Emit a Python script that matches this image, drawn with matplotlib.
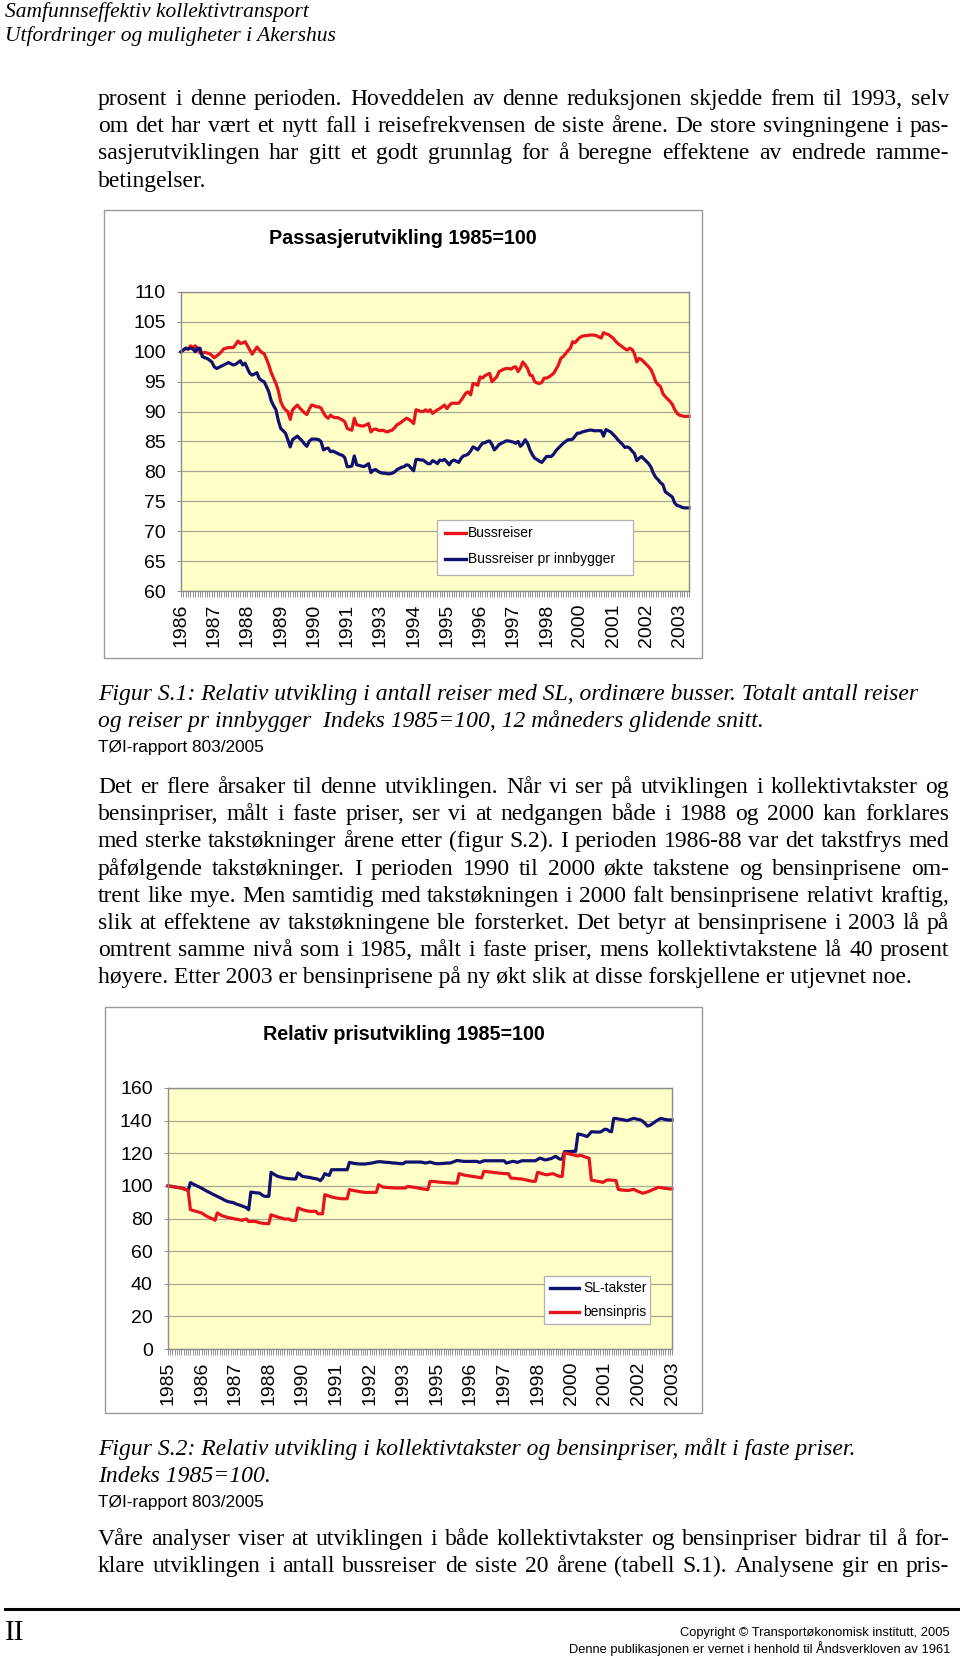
import matplotlib
matplotlib.use("Agg")
import matplotlib.pyplot as plt
import numpy as np
from matplotlib.patches import Rectangle
from matplotlib.lines import Line2D

# ---------------- chart 1: Passasjerutvikling 1985=100 (monthly) ----------------
bus_trips = [
    100.0, 100.3, 100.6, 100.4, 101.0, 100.7, 101.0, 100.5, 99.8, 99.8,
    99.9, 99.8, 99.7, 99.4, 99.0, 99.3, 99.6, 100.0, 100.5, 100.6,
    100.7, 100.7, 100.7, 101.2, 101.8, 101.4, 101.5, 101.7, 101.0, 100.3,
    99.6, 100.2, 100.8, 100.3, 99.9, 99.7, 98.8, 97.8, 96.5, 95.6,
    94.7, 93.5, 91.7, 90.8, 90.3, 90.0, 88.7, 90.3, 90.7, 91.1,
    90.6, 90.2, 89.8, 89.5, 90.4, 91.1, 91.0, 90.8, 90.8, 90.6,
    89.8, 89.2, 88.9, 89.4, 89.1, 89.0, 89.0, 88.8, 88.6, 88.3,
    87.2, 87.0, 86.9, 88.9, 87.8, 87.7, 87.6, 87.6, 87.8, 88.0,
    86.6, 87.0, 87.1, 86.9, 86.8, 86.9, 86.7, 86.6, 86.8, 86.9,
    87.3, 87.8, 88.0, 88.3, 88.6, 88.9, 88.7, 88.4, 88.0, 90.3,
    90.2, 90.0, 90.0, 90.3, 90.0, 90.3, 89.7, 90.0, 90.3, 90.5,
    90.8, 91.1, 90.5, 91.0, 91.4, 91.4, 91.4, 91.4, 91.9, 92.5,
    93.1, 93.3, 92.8, 94.7, 94.6, 94.4, 95.8, 95.6, 96.0, 96.2,
    96.4, 95.0, 95.4, 95.8, 96.7, 96.9, 97.1, 97.2, 97.2, 97.1,
    97.4, 97.5, 96.7, 97.3, 98.3, 97.8, 97.2, 96.1, 96.0, 95.0,
    94.8, 94.7, 94.9, 95.6, 95.6, 95.8, 96.1, 96.4, 97.1, 97.8,
    98.9, 99.2, 99.7, 100.2, 100.6, 101.7, 101.5, 102.0, 102.4, 102.6,
    102.7, 102.7, 102.8, 102.8, 102.8, 102.7, 102.5, 102.3, 103.2, 103.0,
    102.9, 102.6, 102.3, 101.8, 101.4, 101.1, 100.8, 100.5, 100.3, 100.6,
    100.4, 99.7, 98.3, 98.9, 98.7, 98.3, 97.9, 97.5, 97.0, 96.1,
    95.0, 94.5, 94.2, 93.0, 92.5, 92.1, 91.7, 91.2, 90.3, 89.7,
    89.4, 89.3, 89.2, 89.2, 89.2,
]
bus_trips_per_capita = [
    100.0, 100.3, 100.6, 100.5, 100.6, 100.5, 100.0, 100.6, 100.6, 99.2,
    99.0, 98.9, 98.6, 98.3, 97.5, 97.2, 97.4, 97.6, 97.8, 98.0,
    98.2, 98.0, 97.8, 97.9, 98.2, 98.5, 97.8, 98.1, 97.2, 96.4,
    96.1, 96.3, 96.5, 95.5, 95.2, 95.0, 94.2, 93.3, 91.8, 91.0,
    90.3, 88.5, 87.2, 86.8, 86.4, 85.3, 84.1, 85.3, 85.6, 85.9,
    85.5, 85.1, 84.6, 84.2, 85.0, 85.4, 85.4, 85.4, 85.3, 85.0,
    83.6, 83.8, 83.9, 83.3, 83.4, 83.2, 83.0, 82.8, 82.7, 82.3,
    80.8, 80.8, 80.9, 82.6, 81.1, 81.0, 80.9, 80.8, 81.0, 81.3,
    79.8, 80.2, 80.3, 80.0, 79.8, 79.7, 79.7, 79.6, 79.6, 79.7,
    79.9, 80.3, 80.5, 80.7, 80.8, 81.1, 81.0, 80.5, 80.1, 82.0,
    82.0, 81.9, 81.9, 81.6, 81.3, 81.3, 81.8, 81.6, 81.3, 81.9,
    81.8, 82.0, 81.6, 81.1, 81.7, 81.9, 81.7, 81.5, 82.2, 82.6,
    82.7, 82.9, 83.4, 84.1, 83.9, 83.6, 84.2, 84.7, 84.8, 85.0,
    85.1, 84.5, 83.6, 84.0, 84.5, 84.7, 84.9, 85.1, 85.1, 85.0,
    84.9, 84.7, 85.0, 84.2, 84.6, 85.3, 84.7, 83.6, 82.8, 82.2,
    82.0, 81.7, 81.5, 82.0, 82.5, 82.5, 82.5, 82.9, 83.5, 83.9,
    84.3, 84.7, 85.0, 85.3, 85.3, 85.4, 85.9, 86.4, 86.4, 86.6,
    86.7, 86.8, 86.9, 86.9, 86.8, 86.8, 86.8, 86.8, 85.9, 87.0,
    86.8, 86.6, 86.2, 85.8, 85.3, 84.9, 84.5, 84.0, 84.1, 83.9,
    83.4, 83.0, 81.8, 82.2, 82.5, 82.1, 81.7, 81.3, 80.7, 79.7,
    79.0, 78.6, 78.1, 77.8, 76.6, 76.3, 76.0, 75.7, 74.7, 74.3,
    74.2, 74.0, 73.9, 73.9, 73.9,
]
pass_labels = ["1986", "1987", "1988", "1989", "1990", "1991", "1993", "1994",
               "1995", "1996", "1997", "1998", "2000", "2001", "2002", "2003"]
pass_label_step = 14
pass_yticks = [60, 65, 70, 75, 80, 85, 90, 95, 100, 105, 110]

# ---------------- chart 2: Relativ prisutvikling 1985=100 (monthly) ----------------
sl_fares = [
    100.0, 99.8, 99.6, 99.3, 99.1, 98.9, 98.7, 98.2, 97.7, 97.2,
    102.0, 101.3, 100.6, 99.9, 99.3, 98.6, 97.8, 97.0, 96.3, 95.6,
    94.9, 94.2, 93.5, 92.9, 92.2, 91.4, 90.8, 90.3, 90.0, 89.8,
    89.2, 88.6, 88.2, 87.7, 87.2, 86.6, 85.4, 96.2, 96.0, 95.8,
    95.7, 95.5, 94.4, 93.6, 93.6, 93.6, 108.3, 107.4, 106.6, 105.8,
    105.5, 105.1, 104.8, 104.6, 104.4, 104.3, 104.2, 104.2, 107.9, 107.0,
    105.8, 105.6, 105.4, 105.2, 104.9, 104.6, 104.4, 104.0, 103.2, 104.8,
    107.5, 106.8, 106.4, 109.9, 109.9, 109.9, 109.9, 109.9, 109.9, 109.9,
    109.9, 114.4, 114.1, 113.8, 113.6, 113.5, 113.4, 113.4, 113.4, 113.6,
    113.8, 114.0, 114.3, 114.6, 114.8, 114.8, 114.6, 114.5, 114.4, 114.3,
    114.1, 114.0, 113.9, 113.7, 113.6, 113.6, 114.6, 114.6, 114.6, 114.6,
    114.6, 114.6, 114.6, 114.6, 114.3, 114.0, 114.3, 114.6, 114.2, 113.8,
    113.6, 113.6, 113.7, 113.8, 113.9, 114.0, 114.0, 114.5, 115.0, 115.6,
    115.4, 115.2, 115.0, 115.0, 115.0, 115.0, 115.0, 115.0, 115.0, 114.4,
    114.8, 115.4, 115.4, 115.4, 115.4, 115.4, 115.4, 115.4, 115.4, 115.4,
    115.4, 114.0, 114.3, 114.7, 115.0, 114.8, 114.4, 114.9, 115.4, 115.4,
    115.4, 115.4, 115.4, 115.4, 115.4, 116.2, 117.0, 116.6, 116.0, 116.0,
    116.4, 116.7, 117.4, 118.1, 117.2, 116.4, 116.4, 121.0, 121.0, 121.0,
    121.1, 121.2, 121.2, 131.8, 131.6, 131.2, 130.8, 130.2, 131.5, 133.2,
    133.1, 133.0, 133.0, 133.0, 133.8, 134.7, 134.6, 133.5, 133.2, 141.4,
    141.3, 141.0, 140.8, 140.6, 140.3, 140.0, 140.5, 141.0, 141.4, 141.0,
    140.7, 140.4, 139.5, 138.3, 136.7, 137.0, 137.9, 138.8, 139.8, 140.6,
    141.4, 141.0, 140.7, 140.5, 140.4, 140.4,
]
petrol_price = [
    100.0, 99.8, 99.6, 99.3, 99.1, 98.9, 98.7, 98.2, 97.7, 97.2,
    85.4, 85.0, 84.6, 84.2, 83.8, 83.4, 82.5, 81.6, 80.9, 80.3,
    79.7, 78.9, 83.4, 82.6, 81.8, 81.3, 80.9, 80.5, 80.3, 80.0,
    79.7, 79.5, 79.2, 78.9, 79.3, 79.7, 78.2, 78.2, 78.2, 78.2,
    77.8, 77.4, 77.1, 77.0, 76.8, 76.8, 82.3, 81.8, 81.3, 80.9,
    80.5, 80.1, 79.7, 79.7, 79.7, 78.9, 78.9, 78.9, 86.4, 86.0,
    85.4, 85.0, 84.7, 84.4, 84.4, 84.4, 84.4, 82.9, 82.9, 82.9,
    94.6, 94.2, 93.7, 93.2, 92.9, 92.6, 92.4, 92.2, 92.1, 92.1,
    92.1, 97.7, 97.4, 97.1, 96.9, 96.6, 96.4, 96.2, 96.0, 96.0,
    96.0, 96.0, 96.0, 96.0, 100.7, 100.0, 99.3, 99.1, 99.0, 98.9,
    98.8, 98.7, 98.7, 98.7, 98.7, 98.7, 98.7, 99.7, 99.5, 99.3,
    99.1, 98.9, 98.6, 98.3, 98.1, 97.9, 97.7, 102.8, 102.7, 102.6,
    102.5, 102.3, 102.2, 102.1, 102.0, 101.9, 101.8, 101.7, 101.7, 101.7,
    107.5, 107.1, 106.7, 106.4, 106.2, 106.0, 105.8, 105.6, 105.4, 105.1,
    104.9, 108.9, 108.8, 108.6, 108.5, 108.3, 108.1, 108.0, 107.8, 107.7,
    107.5, 107.5, 107.5, 104.8, 104.7, 104.6, 104.4, 104.3, 104.2, 103.9,
    103.6, 103.3, 103.0, 102.8, 102.8, 108.3, 107.9, 107.5, 107.1, 106.8,
    107.0, 107.3, 107.5, 106.8, 106.2, 105.8, 105.8, 120.2, 120.0, 119.6,
    119.3, 119.0, 118.6, 118.3, 118.8, 118.4, 117.8, 117.4, 116.9, 103.6,
    103.3, 103.0, 102.8, 102.5, 102.1, 102.8, 103.6, 103.6, 103.5, 103.4,
    103.3, 97.9, 97.6, 97.4, 97.3, 97.2, 97.3, 97.6, 97.9, 97.1,
    96.5, 96.0, 95.5, 95.9, 96.3, 96.8, 97.5, 98.0, 98.6, 99.1,
    98.9, 98.7, 98.5, 98.3, 98.1, 98.1,
]
price_labels = ["1985", "1986", "1987", "1988", "1990", "1991", "1992", "1993",
                "1995", "1996", "1997", "1998", "2000", "2001", "2002", "2003"]
price_label_step = 15
price_yticks = [0, 20, 40, 60, 80, 100, 120, 140, 160]

# ---------------- page text ----------------
header = ["Samfunnseffektiv kollektivtransport",
          "Utfordringer og muligheter i Akershus"]
para1 = ["prosent i denne perioden. Hoveddelen av denne reduksjonen skjedde frem til 1993, selv",
         "om det har vært et nytt fall i reisefrekvensen de siste årene. De store svingningene i pas-",
         "sasjerutviklingen har gitt et godt grunnlag for å beregne effektene av endrede ramme-",
         "betingelser."]
caption1 = ["Figur S.1: Relativ utvikling i antall reiser med SL, ordinære busser. Totalt antall reiser",
            "og reiser pr innbygger  Indeks 1985=100, 12 måneders glidende snitt."]
para2 = ["Det er flere årsaker til denne utviklingen. Når vi ser på utviklingen i kollektivtakster og",
         "bensinpriser, målt i faste priser, ser vi at nedgangen både i 1988 og 2000 kan forklares",
         "med sterke takstøkninger årene etter (figur S.2). I perioden 1986-88 var det takstfrys med",
         "påfølgende takstøkninger. I perioden 1990 til 2000 økte takstene og bensinprisene om-",
         "trent like mye. Men samtidig med takstøkningen i 2000 falt bensinprisene relativt kraftig,",
         "slik at effektene av takstøkningene ble forsterket. Det betyr at bensinprisene i 2003 lå på",
         "omtrent samme nivå som i 1985, målt i faste priser, mens kollektivtakstene lå 40 prosent",
         "høyere. Etter 2003 er bensinprisene på ny økt slik at disse forskjellene er utjevnet noe."]
caption2 = ["Figur S.2: Relativ utvikling i kollektivtakster og bensinpriser, målt i faste priser.",
            "Indeks 1985=100."]
para3 = ["Våre analyser viser at utviklingen i både kollektivtakster og bensinpriser bidrar til å for-",
         "klare utviklingen i antall bussreiser de siste 20 årene (tabell S.1). Analysene gir en pris-"]
report = "TØI-rapport 803/2005"
footer = ["Copyright © Transportøkonomisk institutt, 2005",
          "Denne publikasjonen er vernet i henhold til Åndsverkloven av 1961"]

W, H = 960, 1659
SERIF = "Liberation Serif"
SANS = "Liberation Sans"
BODY = 17
TICK = 14
RED = "#e8141b"
BLUE = "#10106e"

fig = plt.figure(figsize=(W / 100, H / 100), dpi=100)
renderer = fig.canvas.get_renderer()


def fx(x):
    return x / W


def fy(y):
    return 1 - y / H


def text_line(s, y, justify=True, x0=98, x1=949, size=BODY, style="normal", family=SERIF):
    if not justify:
        fig.text(fx(x0), fy(y), s, fontsize=size, style=style, family=family, va="baseline")
        return
    words = s.split()
    items = [fig.text(0, fy(y), w, fontsize=size, style=style, family=family, va="baseline")
             for w in words]
    widths = [t.get_window_extent(renderer).width for t in items]
    gap = (x1 - x0 - sum(widths)) / (len(words) - 1)
    pos = x0
    for t, w in zip(items, widths):
        t.set_x(fx(pos))
        pos += w + gap


def paragraph(lines, first_y, step=27.2, last_justified=False):
    for i, s in enumerate(lines):
        just = last_justified or i < len(lines) - 1
        text_line(s, first_y + i * step, justify=just)


def legend(box, entries, line_x, text_x, rows_y):
    l, t, r, b = box
    fig.patches.append(Rectangle((fx(l), fy(b)), (r - l) / W, (b - t) / H,
                                 transform=fig.transFigure, facecolor="white",
                                 edgecolor="#b0b0b0", lw=0.9, zorder=5))
    for (name, color), y in zip(entries, rows_y):
        fig.lines.append(Line2D([fx(line_x[0]), fx(line_x[1])], [fy(y), fy(y)],
                                transform=fig.transFigure, color=color, lw=2.4, zorder=6))
        fig.text(fx(text_x), fy(y), name, fontsize=10, family=SANS, va="center", zorder=6)


def chart(box, area, title, title_y, series, yticks, labels, step):
    l, t, r, b = box
    fig.patches.append(Rectangle((fx(l), fy(b)), (r - l) / W, (b - t) / H,
                                 transform=fig.transFigure, fill=False,
                                 edgecolor="#9a9a9a", lw=1.0))
    fig.text(fx((l + r) / 2), fy(title_y), title, fontsize=14.2, weight="bold",
             family=SANS, ha="center", va="center")
    al, at, ar, ab = area
    ax = fig.add_axes([fx(al), fy(ab), (ar - al) / W, (ab - at) / H])
    ax.set_facecolor("#ffffc8")
    n = len(series[0][0])
    x = np.arange(n)
    for vals, color in series:
        ax.plot(x, vals, color=color, lw=2.3, solid_joinstyle="round", clip_on=False)
    ax.set_xlim(0, n - 1)
    ax.set_ylim(yticks[0], yticks[-1])
    ax.set_yticks(yticks)
    ax.set_yticklabels([str(v) for v in yticks], fontsize=TICK, family=SANS)
    ax.yaxis.grid(True, color="#a8a896", lw=0.9)
    ax.set_axisbelow(True)
    ax.set_xticks(x, minor=True)
    ax.set_xticks(np.arange(len(labels)) * step)
    ax.set_xticklabels(labels, rotation=90, fontsize=TICK, family=SANS)
    ax.tick_params(axis="x", which="both", length=4, width=0.6, color="#808080", pad=5)
    ax.tick_params(axis="y", length=3, width=0.6, color="#808080", pad=8)
    for sp in ax.spines.values():
        sp.set_color("#8c8c8c")
        sp.set_linewidth(1.0)
    return ax


# header
fig.text(fx(5), fy(17), header[0], fontsize=15.5, style="italic", family=SERIF, va="baseline")
fig.text(fx(5), fy(41), header[1], fontsize=15.5, style="italic", family=SERIF, va="baseline")

paragraph(para1, 105)

# chart 1
chart((104, 210, 702, 658), (181, 292, 689, 591), "Passasjerutvikling 1985=100", 239,
      [(bus_trips, RED), (bus_trips_per_capita, BLUE)], pass_yticks, pass_labels, pass_label_step)
legend((437, 520, 633, 575), [("Bussreiser", RED), ("Bussreiser pr innbygger", BLUE)],
       (445, 466), 468, (533, 559))

for i, s in enumerate(caption1):
    text_line(s, 700 + i * 27.2, justify=False, style="italic")
fig.text(fx(98), fy(752), report, fontsize=12.4, family=SANS, va="baseline")

paragraph(para2, 793)

# chart 2
chart((105, 1007, 702, 1413), (168, 1088, 672, 1349), "Relativ prisutvikling 1985=100", 1035,
      [(sl_fares, BLUE), (petrol_price, RED)], price_yticks, price_labels, price_label_step)
legend((544, 1276, 650, 1324), [("SL-takster", BLUE), ("bensinpris", RED)],
       (550, 579), 583, (1288, 1312))

for i, s in enumerate(caption2):
    text_line(s, 1455 + i * 27.2, justify=False, style="italic")
fig.text(fx(98), fy(1507), report, fontsize=12.4, family=SANS, va="baseline")

paragraph(para3, 1545, last_justified=True)

# footer
fig.lines.append(Line2D([fx(5), fx(958)], [fy(1609), fy(1609)], transform=fig.transFigure,
                        color="black", lw=2.2))
fig.text(fx(5), fy(1640), "II", fontsize=21, family=SERIF, va="baseline")
fig.text(fx(950), fy(1636), footer[0], fontsize=9.3, family=SANS, ha="right", va="baseline")
fig.text(fx(950), fy(1653), footer[1], fontsize=9.3, family=SANS, ha="right", va="baseline")

fig.savefig("out.png", dpi=100, facecolor="white")
